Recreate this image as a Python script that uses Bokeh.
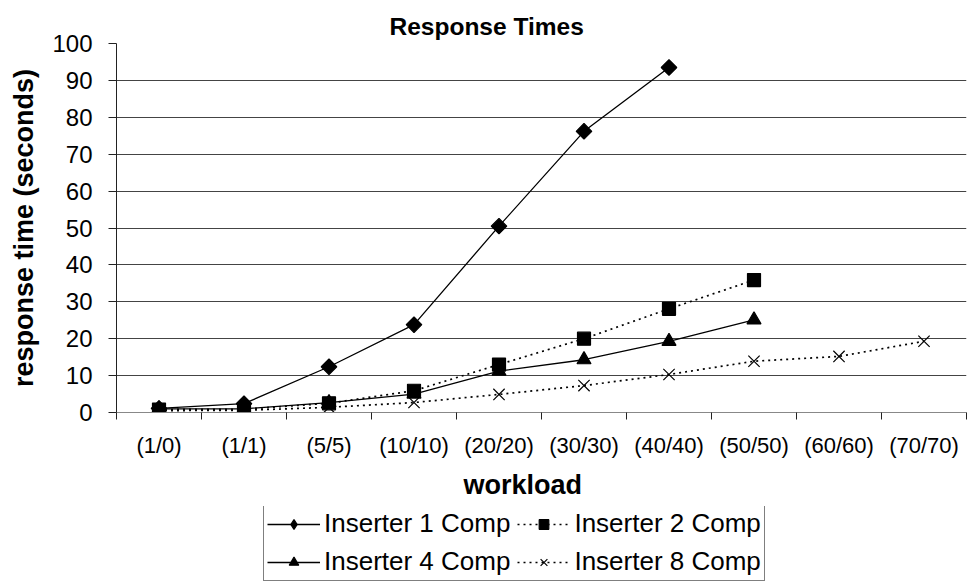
import numpy as np
from bokeh.plotting import figure
from bokeh.layouts import column
from bokeh.models import FixedTicker, Legend, LegendItem, Title
from bokeh.embed import file_html
from bokeh.resources import INLINE

# Workload labels (inserters / readers)
categories = ["(1/0)", "(1/1)", "(5/5)", "(10/10)", "(20/20)", "(30/30)",
              "(40/40)", "(50/50)", "(60/60)", "(70/70)"]

# Response times in seconds per configuration
ins1 = [1.1, 2.4, 12.4, 23.8, 50.5, 76.2, 93.5]
ins2 = [0.8, 0.9, 2.5, 5.9, 13.0, 20.0, 28.1, 35.9]
ins4 = [1.0, 1.0, 2.7, 5.0, 11.2, 14.3, 19.3, 25.1]
ins8 = [0.5, 0.6, 1.4, 2.7, 4.9, 7.3, 10.3, 13.9, 15.2, 19.3]

y_ticks = list(range(0, 101, 10))

FONT = "Liberation Sans"

centers = [i + 0.5 for i in range(len(categories))]
bounds = list(range(len(categories) + 1))

p = figure(width=968, height=506, output_backend="svg", toolbar_location=None,
           x_range=(0, len(categories)), y_range=(0, 100),
           min_border_left=116, min_border_right=2,
           min_border_top=43, min_border_bottom=93)
p.outline_line_color = None
p.background_fill_color = "white"

p.title = Title(text="Response Times", align="left", offset=273,
                text_font=FONT, text_font_size="24.5px", text_font_style="bold",
                text_color="black", standoff=8)

# x axis: labels centred in each category, tick marks on the boundaries
p.xaxis.ticker = FixedTicker(ticks=centers, minor_ticks=bounds)
p.xaxis.major_label_overrides = {c: lab for c, lab in zip(centers, categories)}
p.xaxis.major_tick_line_color = None
p.xaxis.minor_tick_line_color = "#222222"
p.xaxis.minor_tick_out = 7
p.xaxis.minor_tick_in = 0
p.xaxis.axis_line_color = "#888888"
p.xaxis.major_label_text_font = FONT
p.xaxis.major_label_text_font_size = "22px"
p.xaxis.major_label_text_color = "black"
p.xaxis.major_label_standoff = 13

p.yaxis.ticker = FixedTicker(ticks=y_ticks)
p.yaxis.minor_tick_line_color = None
p.yaxis.major_tick_out = 8
p.yaxis.major_tick_in = 0
p.yaxis.major_tick_line_color = "#222222"
p.yaxis.axis_line_color = "#222222"
p.yaxis.major_label_text_font = FONT
p.yaxis.major_label_text_font_size = "24px"
p.yaxis.major_label_text_color = "black"
p.yaxis.major_label_standoff = 16
p.yaxis.axis_label = "response time (seconds)"
p.yaxis.axis_label_text_font = FONT
p.yaxis.axis_label_text_font_size = "27px"
p.yaxis.axis_label_text_font_style = "bold"
p.yaxis.axis_label_text_color = "black"
p.yaxis.axis_label_standoff = 10

p.xgrid.grid_line_color = None
p.ygrid.ticker = FixedTicker(ticks=y_ticks)
p.ygrid.grid_line_color = "#444444"
p.ygrid.grid_line_width = 1

# x axis title, set below the tick labels
p.add_layout(Title(text="workload", align="left", offset=347,
                   text_font=FONT, text_font_size="27px", text_font_style="bold",
                   text_color="black", standoff=14), "below")

series = [
    ("Inserter 1 Comp", ins1, "solid", 1.3, dict(marker="square", angle=np.pi / 4, size=11),
     dict(marker="diamond", size=12)),
    ("Inserter 2 Comp", ins2, "2 4", 1.7, dict(marker="square", size=13),
     dict(marker="square", size=10)),
    ("Inserter 4 Comp", ins4, "solid", 1.3, dict(marker="triangle", size=14),
     dict(marker="triangle", size=11)),
    ("Inserter 8 Comp", ins8, "2 4", 1.7, dict(marker="x", size=16),
     dict(marker="x", size=10)),
]

# strip below the chart that carries the legend box; its ranges keep the
# series themselves out of view so only the legend keys show
leg = figure(width=968, height=78, output_backend="svg", toolbar_location=None,
             x_range=(-3, -2), y_range=(-3, -2), x_axis_type=None, y_axis_type=None,
             min_border=0)
leg.outline_line_color = None
leg.xgrid.visible = False
leg.ygrid.visible = False

items = []
for name, vals, dash, lw, mk, lmk in series:
    xs = centers[:len(vals)]
    p.line(xs, vals, line_color="black", line_width=lw, line_dash=dash)
    p.scatter(xs, vals, fill_color="black", line_color="black",
              line_width=1.2, **mk)
    kl = leg.line(xs, vals, line_color="black", line_width=lw, line_dash=dash)
    ks = leg.scatter(xs, vals, fill_color="black", line_color="black",
                     line_width=1.2, **lmk)
    items.append(LegendItem(label=name, renderers=[kl, ks]))

legend = Legend(items=items, ncols=2, location=(147, 3),
                label_text_font=FONT, label_text_font_size="26px",
                label_text_color="black", glyph_width=53, glyph_height=24,
                label_standoff=4, spacing=7, padding=3, margin=0,
                border_line_color="black", border_line_width=1,
                background_fill_alpha=1.0, label_height=24,
                orientation="horizontal")
leg.add_layout(legend, "center")

open("out.html", "w").write(file_html(column(p, leg, spacing=0), INLINE))
